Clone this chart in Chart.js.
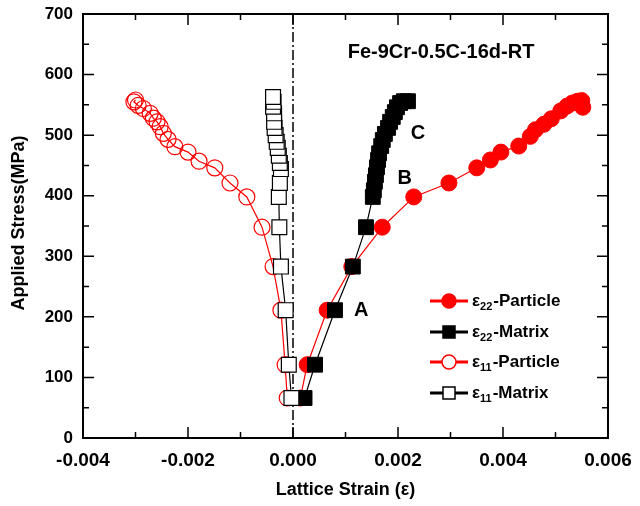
<!DOCTYPE html>
<html><head><meta charset="utf-8">
<script src="https://cdn.jsdelivr.net/npm/chart.js@4.4.1/dist/chart.umd.min.js"></script>
<style>html,body{margin:0;padding:0;background:#fff;}canvas{display:block;}</style>
</head><body>
<canvas id="c" width="640" height="506"></canvas>
<script>
// ---- tick labels ----
const xMajorTicks = [-0.004, -0.002, 0.000, 0.002, 0.004, 0.006];
const xMinorTicks = [-0.003, -0.001, 0.001, 0.003, 0.005];
const yMajorTicks = [0, 100, 200, 300, 400, 500, 600, 700];
const yMinorTicks = [50, 150, 250, 350, 450, 550, 650];

// ---- series: eps22 Particle (filled red circles) ----
const e22ParticleStrain = [0.00014, 0.00027, 0.00065, 0.00112, 0.0017, 0.0023, 0.00297, 0.0035, 0.00376, 0.00396, 0.0043, 0.00452, 0.00462, 0.00478, 0.00492, 0.0051, 0.00522, 0.00532, 0.00542, 0.0055, 0.00552];
const e22ParticleStress = [66, 121, 211, 283, 348, 398, 421, 446, 459, 472, 482, 498, 509, 518, 527, 540, 548, 553, 556, 557, 546];

// ---- eps22 Matrix (filled black squares) ----
const e22MatrixStrain = [0.00022, 0.00042, 0.0008, 0.00114, 0.00139, 0.00152, 0.00154, 0.00156, 0.00158, 0.0016, 0.00162, 0.00164, 0.00168, 0.00171, 0.00175, 0.00181, 0.00185, 0.0019, 0.00194, 0.00198, 0.00204, 0.00211, 0.00219];
const e22MatrixStress = [66, 121, 211, 283, 348, 398, 409, 423, 434, 447, 459, 470, 482, 492, 502, 512, 522, 530, 538, 546, 553, 556, 556];

// ---- eps11 Particle (open red circles) ----
const e11ParticleStrain = [-0.00011, -0.00015, -0.00023, -0.00038, -0.00059, -0.00088, -0.0012, -0.00149, -0.00179, -0.002, -0.00225, -0.00238, -0.00247, -0.00253, -0.00259, -0.00266, -0.00272, -0.00285, -0.00295, -0.00303, -0.003];
const e11ParticleStress = [66, 121, 211, 283, 348, 398, 421, 446, 457, 472, 481, 493, 503, 514, 522, 528, 536, 544, 549, 555, 558];

// ---- eps11 Matrix (open black squares) ----
const e11MatrixStrain = [-0.00003, -0.00008, -0.00014, -0.00023, -0.00026, -0.00027, -0.00025, -0.00023, -0.00025, -0.00027, -0.00029, -0.00031, -0.00033, -0.00035, -0.00036, -0.00036, -0.00038, -0.00037, -0.00038];
const e11MatrixStress = [66, 121, 211, 283, 348, 398, 421, 444, 454, 466, 479, 489, 500, 512, 522, 536, 547, 555, 563];

// ---- zero reference line ----
const zeroLineStrain = [0, 0];
const zeroLineStress = [0, 700];

// ---- annotations ----
const chartTitle = 'Fe-9Cr-0.5C-16d-RT';
const titlePos = {x: 0.00282, y: 636};
const stageLabels = ['A', 'B', 'C'];
const stageStrain = [0.0013, 0.00213, 0.00238];
const stageStress = [211, 429, 502];

const FONT = '"Liberation Sans", Arial, sans-serif';

function pts(xs, ys) { return xs.map((v, i) => ({x: v, y: ys[i]})); }

const framePlugin = {
  id: 'framePlugin',
  afterDatasetsDraw(chart) {
    const {ctx, chartArea: a, scales: {x, y}} = chart;
    ctx.save();
    ctx.strokeStyle = '#000';
    ctx.lineWidth = 1.5;
    ctx.beginPath();
    const tick = (vals, L) => {
      vals.forEach(v => {
        const p = x.getPixelForValue(v);
        ctx.moveTo(p, a.bottom); ctx.lineTo(p, a.bottom - L);
        ctx.moveTo(p, a.top); ctx.lineTo(p, a.top + L);
      });
    };
    const ticky = (vals, L) => {
      vals.forEach(v => {
        const p = y.getPixelForValue(v);
        ctx.moveTo(a.left, p); ctx.lineTo(a.left + L, p);
        ctx.moveTo(a.right, p); ctx.lineTo(a.right - L, p);
      });
    };
    tick(xMajorTicks, 11); tick(xMinorTicks, 6);
    ticky(yMajorTicks, 11); ticky(yMinorTicks, 6);
    ctx.stroke();
    ctx.lineWidth = 2;
    ctx.strokeRect(a.left, a.top, a.right - a.left, a.bottom - a.top);

    // annotations
    ctx.fillStyle = '#000';
    ctx.textAlign = 'center';
    ctx.textBaseline = 'middle';
    ctx.font = 'bold 20px ' + FONT;
    ctx.fillText(chartTitle, x.getPixelForValue(titlePos.x), y.getPixelForValue(titlePos.y));
    stageLabels.forEach((t, i) => {
      ctx.fillText(t, x.getPixelForValue(stageStrain[i]), y.getPixelForValue(stageStress[i]));
    });

    // axis titles
    ctx.font = 'bold 18px ' + FONT;
    ctx.fillText('Lattice Strain (ε)', (a.left + a.right) / 2, 490);
    ctx.save();
    ctx.translate(19, (a.top + a.bottom) / 2 - 3);
    ctx.rotate(-Math.PI / 2);
    ctx.fillText('Applied Stress(MPa)', 0, 0);
    ctx.restore();

    // legend
    const items = [
      {sub: '22', name: '-Particle', color: '#ff0000', shape: 'circle', fill: '#ff0000'},
      {sub: '22', name: '-Matrix', color: '#000000', shape: 'rect', fill: '#000000'},
      {sub: '11', name: '-Particle', color: '#ff0000', shape: 'circle', fill: '#ffffff'},
      {sub: '11', name: '-Matrix', color: '#000000', shape: 'rect', fill: '#ffffff'}
    ];
    const rows = [301, 332, 362, 393];
    items.forEach((it, i) => {
      const yy = rows[i];
      ctx.strokeStyle = it.color;
      ctx.lineWidth = 3;
      ctx.beginPath(); ctx.moveTo(430, yy); ctx.lineTo(468, yy); ctx.stroke();
      ctx.fillStyle = it.fill;
      ctx.lineWidth = 1.5;
      ctx.beginPath();
      if (it.shape === 'circle') ctx.arc(449, yy, 7, 0, Math.PI * 2);
      else ctx.rect(443, yy - 6, 12, 12);
      ctx.fill(); ctx.stroke();
      ctx.fillStyle = '#000';
      ctx.textAlign = 'left';
      ctx.textBaseline = 'middle';
      ctx.font = 'bold 17px ' + FONT;
      let tx = 472;
      ctx.fillText('ε', tx, yy);
      tx += ctx.measureText('ε').width;
      ctx.font = 'bold 11px ' + FONT;
      ctx.fillText(it.sub, tx, yy + 6);
      tx += ctx.measureText(it.sub).width + 1;
      ctx.font = 'bold 17px ' + FONT;
      ctx.fillText(it.name, tx, yy);
    });
    ctx.restore();
  }
};

new Chart(document.getElementById('c'), {
  type: 'scatter',
  data: {
    datasets: [
      {label: 'zero', data: pts(zeroLineStrain, zeroLineStress), showLine: true, borderColor: '#000', borderWidth: 1.5, borderDash: [10, 3, 2, 3], pointRadius: 0, order: 5},
      {label: 'e22-Particle', data: pts(e22ParticleStrain, e22ParticleStress), showLine: true, borderColor: '#ff0000', borderWidth: 1.2, pointStyle: 'circle', pointRadius: 8, pointBackgroundColor: '#ff0000', pointBorderColor: '#ff0000', pointBorderWidth: 1, order: 4},
      {label: 'e22-Matrix', data: pts(e22MatrixStrain, e22MatrixStress), showLine: true, borderColor: '#000', borderWidth: 1.2, pointStyle: 'rect', pointRadius: 10.5, pointBackgroundColor: '#000', pointBorderColor: '#000', pointBorderWidth: 1, order: 3},
      {label: 'e11-Particle', data: pts(e11ParticleStrain, e11ParticleStress), showLine: true, borderColor: '#ff0000', borderWidth: 1.2, pointStyle: 'circle', pointRadius: 8, pointBackgroundColor: 'rgba(255,255,255,0)', pointBorderColor: '#ff0000', pointBorderWidth: 1.2, order: 2},
      {label: 'e11-Matrix', data: pts(e11MatrixStrain, e11MatrixStress), showLine: true, borderColor: '#000', borderWidth: 1.2, pointStyle: 'rect', pointRadius: 10.5, pointBackgroundColor: '#fff', pointBorderColor: '#000', pointBorderWidth: 1.2, order: 1}
    ]
  },
  options: {
    responsive: false,
    animation: false,
    devicePixelRatio: 1,
    layout: {padding: {top: 14, right: 32, left: 0, bottom: 0}},
    plugins: {legend: {display: false}, tooltip: {enabled: false}},
    scales: {
      x: {
        type: 'linear', min: -0.004, max: 0.006,
        afterBuildTicks: s => { s.ticks = xMajorTicks.map(v => ({value: v})); },
        afterFit: s => { s.height = 68; s.paddingLeft = 0; s.paddingRight = 0; },
        grid: {display: false, drawTicks: false},
        border: {display: false},
        ticks: {
          color: '#000', padding: 11, maxRotation: 0, autoSkip: false,
          font: {family: FONT, size: 19, weight: 'bold'},
          callback: v => (Math.abs(v) < 1e-12 ? 0 : v).toFixed(3)
        }
      },
      y: {
        type: 'linear', min: 0, max: 700,
        afterBuildTicks: s => { s.ticks = yMajorTicks.map(v => ({value: v})); },
        afterFit: s => { s.width = 83; s.paddingTop = 0; s.paddingBottom = 0; },
        grid: {display: false, drawTicks: false},
        border: {display: false},
        ticks: {
          color: '#000', padding: 10, autoSkip: false,
          font: {family: FONT, size: 17, weight: 'bold'}
        }
      }
    }
  },
  plugins: [framePlugin]
});
</script>
</body></html>
